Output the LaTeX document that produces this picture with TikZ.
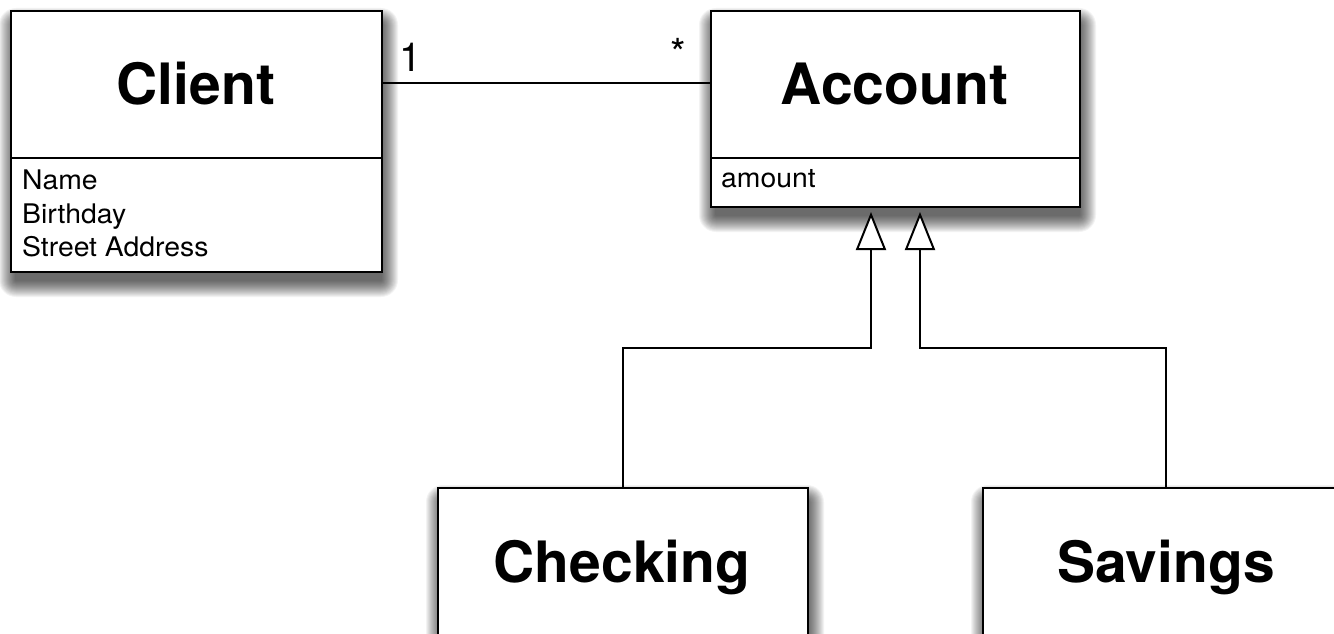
\documentclass[tikz,border=0pt]{standalone}
\usepackage{fontspec}
\setmainfont{TeX Gyre Heros}
\newfontfamily\attrfont[FakeStretch=1.05]{TeX Gyre Heros}
\usetikzlibrary{arrows.meta,calc,backgrounds}
\tikzset{
  x=1pt, y=-1pt,
  classbox/.style={draw, line width=2pt, fill=white, anchor=north west, inner sep=0pt},
  shadowlayer/.style={fill=black, opacity=0.048},
  titletext/.style={anchor=base, inner sep=0pt, font=\bfseries\fontsize{57}{60}\selectfont},
  attrtext/.style={anchor=base west, inner sep=0pt, font=\attrfont\fontsize{27}{33.5}\selectfont, align=left},
  multtext/.style={anchor=base, inner sep=0pt, font=\fontsize{40}{44}\selectfont},
  divider/.style={line width=2pt},
  assoc/.style={line width=2pt},
  gen/.style={line width=2pt, -{Triangle[open, length=38pt, width=30pt, fill=white]}},
}
\newcommand{\mkshadow}[1]{%
  \foreach \r in {17,16,...,1}{%
    \fill[shadowlayer, rounded corners=\r pt]
      ($(#1.north west)+(2-\r+4, 11-\r+4)$) rectangle ($(#1.south east)+(2+\r-4, 11+\r-4)$);
  }%
}
\begin{document}
\begin{tikzpicture}
\useasboundingbox (0,0) rectangle (1334,634);

% Client
\node[classbox, minimum width=371pt, minimum height=261pt] (client) at (10,10) {};
\coordinate (clientdivL) at (10,158);
\coordinate (clientdivR) at (381,158);
\draw[divider] (clientdivL) -- (clientdivR);
\node[titletext] (clientname) at (196,104) {Client};
\node[attrtext, anchor=north west] (clientattr) at (22,166) {\strut Name\\\strut Birthday\\\strut Street Address};

% Account
\node[classbox, minimum width=369pt, minimum height=196pt] (account) at (710,10) {};
\coordinate (accdivL) at (710,158);
\coordinate (accdivR) at (1079,158);
\draw[divider] (accdivL) -- (accdivR);
\node[titletext] (accountname) at (894.5,104) {Account};
\node[attrtext] (accattr) at (721,187) {amount};

% Checking
\node[classbox, minimum width=370pt, minimum height=220pt] (checking) at (437,487) {};
\node[titletext] (checkingname) at (622,582) {Checking};

% Savings
\node[classbox, minimum width=420pt, minimum height=220pt] (savings) at (982,487) {};
\coordinate (savtop) at (1165.5,487);
\node[titletext] (savingsname) at (1166,582) {Savings};

% Association
\coordinate (assocL) at (381,83);
\coordinate (assocR) at (710,83);
\draw[assoc] (assocL) -- (assocR);
\node[multtext] (one) at (411,71) {1};
\node[multtext] (many) at (678.5,68) {*};

% Generalizations
\coordinate (acc1) at ($(account.south)+(-24.5,4)$);
\coordinate (acc2) at ($(account.south)+(24.5,4)$);
\draw[gen] (checking.north) |- ($(acc1)+(0,136)$) -- (acc1);
\draw[gen] (savtop) |- ($(acc2)+(0,136)$) -- (acc2);

\begin{pgfonlayer}{background}
  \fill[white] (0,0) rectangle (1334,634);
  \mkshadow{client}
  \mkshadow{account}
  \mkshadow{checking}
  \mkshadow{savings}
\end{pgfonlayer}
\end{tikzpicture}
\end{document}
